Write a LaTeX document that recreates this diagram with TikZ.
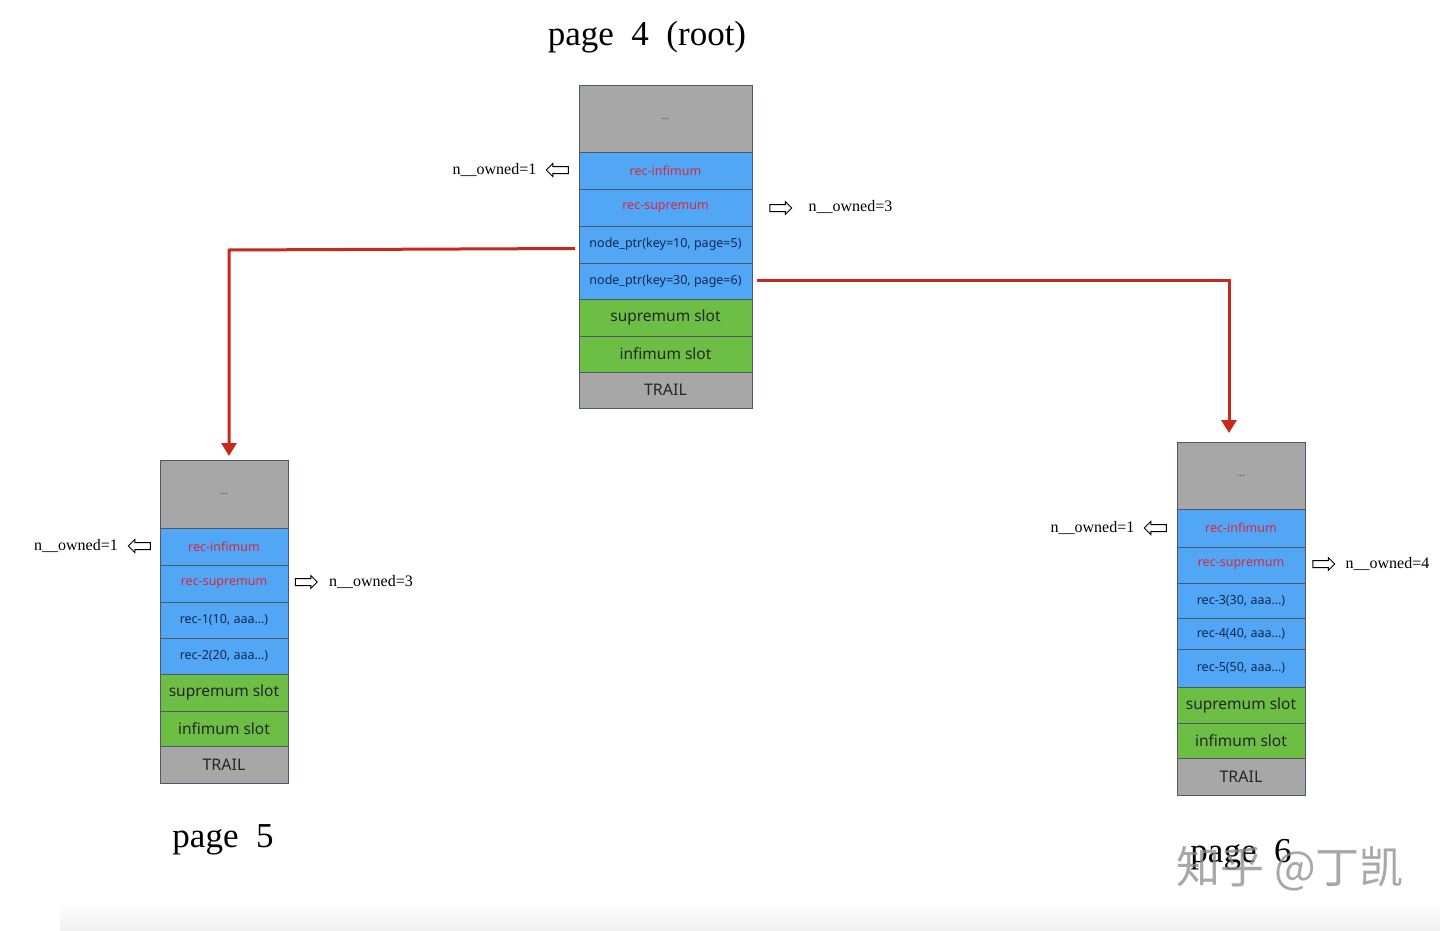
\documentclass[tikz,border=0pt]{standalone}
\usepackage{fontspec}
\setmainfont{Noto Sans}
\newfontfamily\tms{Liberation Serif}
\newfontfamily\cjk{Noto Sans CJK SC}
\usetikzlibrary{arrows.meta,shapes.arrows}
\definecolor{cgray}{HTML}{A7A7A7}
\definecolor{cblue}{HTML}{52A6F6}
\definecolor{cgreen}{HTML}{6CBE45}
\definecolor{cnavy}{HTML}{12284C}
\definecolor{cred}{HTML}{D8283C}
\definecolor{lred}{HTML}{C62A1E}
\definecolor{bordc}{HTML}{505A66}
\tikzset{
  cell/.style={draw=bordc, line width=0.6pt, inner sep=0pt, outer sep=0pt, anchor=north},
  gcell/.style={cell, fill=cgray, text=black!70, font=\fontsize{10}{12}\selectfont},
  bcell/.style={cell, fill=cblue, text=cnavy, font=\fontsize{12.5}{14}\selectfont},
  rcell/.style={bcell, text=cred},
  ccell/.style={cell, fill=cgreen, text=black!85, font=\fontsize{15.5}{18}\selectfont},
  tcell/.style={cell, fill=cgray, text=black!85, font=\fontsize{16}{18}\selectfont},
  lbl/.style={font=\tms\fontsize{16}{19}\selectfont, inner sep=0pt},
  pagetitle/.style={font=\tms\fontsize{35}{40}\selectfont, inner sep=0pt},
  harrow/.style={single arrow, draw=black, line width=1pt, fill=white, minimum height=22pt, minimum width=13pt, single arrow head extend=3pt, inner sep=3pt},
  redline/.style={draw=lred, line width=3pt, -{Triangle[width=15pt,length=13pt]}}
}
\begin{document}
\begin{tikzpicture}[x=1pt,y=-1pt]
\useasboundingbox[fill=white] (0,0) rectangle (1440,931);
\fill[top color=white, bottom color=black!6, draw=none] (60,903) rectangle (1440,931);

% ---------- page 4 (root) ----------
\node[pagetitle] (t4) at (647,37) {page\ \ 4\ \ (root)};
\begin{scope}[every node/.append style={minimum width=173pt}]
\node[gcell, minimum height=67pt] (r0) at (665.5,85) {\ldots};
\node[rcell, minimum height=37pt] (r1) at (r0.south) {rec-infimum};
\node[rcell, minimum height=37pt] (r2) at (r1.south) {rec-supremum};
\node[bcell, minimum height=37pt] (r3) at (r2.south) {node\_ptr(key=10, page=5)};
\node[bcell, minimum height=36pt] (r4) at (r3.south) {node\_ptr(key=30, page=6)};
\node[ccell, minimum height=37pt] (r5) at (r4.south) {supremum slot};
\node[ccell, minimum height=36pt] (r6) at (r5.south) {infimum slot};
\node[tcell, minimum height=36pt] (r7) at (r6.south) {TRAIL};
\end{scope}
\node[harrow, shape border rotate=180] (ra1) at (559,170) {};
\node[lbl] (rl1) at (494.5,170) {n\_\_owned=1};
\node[harrow] (ra2) at (779,208) {};
\node[lbl] (rl2) at (850.5,207) {n\_\_owned=3};

% ---------- page 5 ----------
\node[pagetitle] (t5) at (223,840) {page\ \ 5};
\begin{scope}[every node/.append style={minimum width=128pt}]
\node[gcell, minimum height=68pt] (a0) at (224,460) {\ldots};
\node[rcell, minimum height=37pt] (a1) at (a0.south) {rec-infimum};
\node[rcell, minimum height=37pt] (a2) at (a1.south) {rec-supremum};
\node[bcell, minimum height=36pt] (a3) at (a2.south) {rec-1(10, aaa\ldots)};
\node[bcell, minimum height=36pt] (a4) at (a3.south) {rec-2(20, aaa\ldots)};
\node[ccell, minimum height=37pt] (a5) at (a4.south) {supremum slot};
\node[ccell, minimum height=35pt] (a6) at (a5.south) {infimum slot};
\node[tcell, minimum height=37pt] (a7) at (a6.south) {TRAIL};
\end{scope}
\node[harrow, shape border rotate=180] (aa1) at (141,546) {};
\node[lbl] (al1) at (76,546) {n\_\_owned=1};
\node[harrow] (aa2) at (304.5,582) {};
\node[lbl] (al2) at (371,582) {n\_\_owned=3};

% ---------- page 6 ----------
\begin{scope}[every node/.append style={minimum width=128pt}]
\node[gcell, minimum height=67pt] (b0) at (1241,442) {\ldots};
\node[rcell, minimum height=38pt] (b1) at (b0.south) {rec-infimum};
\node[rcell, minimum height=36pt] (b2) at (b1.south) {rec-supremum};
\node[bcell, minimum height=35pt] (b3) at (b2.south) {rec-3(30, aaa\ldots)};
\node[bcell, minimum height=31pt] (b4) at (b3.south) {rec-4(40, aaa\ldots)};
\node[bcell, minimum height=38pt] (b5) at (b4.south) {rec-5(50, aaa\ldots)};
\node[ccell, minimum height=36pt] (b6) at (b5.south) {supremum slot};
\node[ccell, minimum height=35pt] (b7) at (b6.south) {infimum slot};
\node[tcell, minimum height=37pt] (b8) at (b7.south) {TRAIL};
\end{scope}
\node[harrow, shape border rotate=180] (ba1) at (1157,528) {};
\node[lbl] (bl1) at (1092.5,528) {n\_\_owned=1};
\node[harrow] (ba2) at (1322,564) {};
\node[lbl] (bl2) at (1387.5,564) {n\_\_owned=4};

\node[pagetitle] (t6) at (1241,855) {page\ \ 6};
\node[font=\cjk\fontsize{44}{50}\selectfont, text=black!45, opacity=0.75, inner sep=0pt] (wm) at (1290,869) {知乎 @丁凯};

% ---------- connectors ----------
\coordinate (k1) at (229,250);
\coordinate (k2) at (1229,280);
\draw[redline, shorten >=4pt] ([xshift=-4pt,yshift=-4pt]r3.west) -- (k1) -- (k1 |- a0.north);
\draw[redline, shorten >=9pt] ([xshift=5pt,yshift=1pt]r4.east) -- (k2) -- (k2 |- b0.north);
\end{tikzpicture}
\end{document}
